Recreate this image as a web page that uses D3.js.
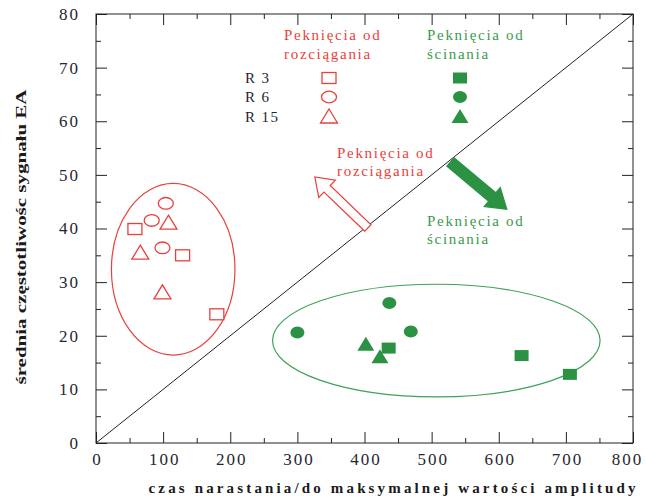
<!DOCTYPE html>
<html lang="pl">
<head>
<meta charset="UTF-8">
<title>Peknięcia - EA</title>
<script src="https://d3js.org/d3.v7.min.js"></script>
<style>
    body { margin: 0; background: #fff; }
    svg text { font-family: "Liberation Serif", "DejaVu Serif", serif; }
</style>
</head>
<body>
<svg id="chart" width="647" height="498"></svg>
<script>
// x = czas narastania, y = średnia częstotliwość
const tensileR3  = [[58, 39.9], [129, 35.0], [180, 24.0]];
const tensileR6  = [[104, 44.7], [83, 41.5], [99, 36.4]];
const tensileR15 = [[108, 41.0], [66, 35.4], [99, 28.0]];
const shearR3  = [[436, 17.7], [634, 16.3], [706, 12.8]];
const shearR6  = [[437, 26.1], [300, 20.6], [469, 20.8]];
const shearR15 = [[402, 18.3], [423, 16.0]];

const legendRows = ["R 3", "R 6", "R 15"];
const xTicks = d3.range(0, 801, 100);
const yTicks = d3.range(0, 81, 10);

// ellipses: [cx, cy, rx, ry] in data units
const tensileZone = [115, 32.4, 92, 16.0];
const shearZone = [507, 19.1, 244, 10.5];

// arrows: [from, to] in data units
const tensileArrow = [[405, 40.1], [326, 49.6]];
const shearArrow = [[528, 52.4], [612, 43.6]];

const RED = "#e8413c", GREEN = "#2b9244";

const svg = d3.select("#chart");
const mLeft = 96, mRight = 633, mTop = 14, mBottom = 443;

const x = d3.scaleLinear().domain([0, 800]).range([mLeft, mRight]);
const y = d3.scaleLinear().domain([0, 80]).range([mBottom, mTop]);

// frame
svg.append("rect")
    .attr("x", mLeft).attr("y", mTop)
    .attr("width", mRight - mLeft).attr("height", mBottom - mTop)
    .attr("fill", "none").attr("stroke", "#222").attr("stroke-width", 1);

// ticks (inward), major + minor on all four sides
function ticksOn(axisFn, scale, vals, size, pos, labels, pad) {
    const g = svg.append("g").attr("transform", pos)
        .call(axisFn(scale).tickValues(vals).tickSize(-size).tickPadding(pad)
            .tickFormat(labels ? d3.format("d") : ""));
    g.select(".domain").remove();
    g.selectAll("line").attr("stroke", "#222");
    g.selectAll("text").attr("fill", "#262630").attr("font-size", "17px")
        .attr("letter-spacing", "2px")
        .style("font-family", "Liberation Serif, serif");
    return g;
}
const xMinor = d3.range(50, 800, 100);
const yMinor = d3.range(5, 80, 10);
const xLab = ticksOn(d3.axisBottom, x, xTicks, 11, `translate(0,${mBottom})`, true, 10);
xLab.selectAll("text").attr("dx", "1px");
xLab.selectAll("text").filter(d => d === 800).attr("dx", "-6px");
ticksOn(d3.axisBottom, x, xMinor, 5, `translate(0,${mBottom})`, false, 0);
ticksOn(d3.axisTop, x, xTicks, 11, `translate(0,${mTop})`, false, 0);
ticksOn(d3.axisTop, x, xMinor, 5, `translate(0,${mTop})`, false, 0);
ticksOn(d3.axisLeft, y, yTicks, 11, `translate(${mLeft},0)`, true, 16);
ticksOn(d3.axisLeft, y, yMinor, 5, `translate(${mLeft},0)`, false, 0);
ticksOn(d3.axisRight, y, yTicks, 11, `translate(${mRight},0)`, false, 0);
ticksOn(d3.axisRight, y, yMinor, 5, `translate(${mRight},0)`, false, 0);

// diagonal
svg.append("line")
    .attr("x1", x(0)).attr("y1", y(0)).attr("x2", x(800)).attr("y2", y(80))
    .attr("stroke", "#222").attr("stroke-width", 1);

// zones
[[tensileZone, RED], [shearZone, "#3fa257"]].forEach(([z, c]) => {
    svg.append("ellipse")
        .attr("cx", x(z[0])).attr("cy", y(z[1]))
        .attr("rx", x(z[2]) - x(0)).attr("ry", y(0) - y(z[3]))
        .attr("fill", "none").attr("stroke", c).attr("stroke-width", 1.2);
});

// markers
function marker(g, shape, px, py, filled, color) {
    const fill = filled ? color : "#fff";
    const sw = filled ? 0 : 1.3;
    if (shape === "square") {
        g.append("rect").attr("x", px - 7).attr("y", py - 5.5)
            .attr("width", 14).attr("height", 11)
            .attr("fill", fill).attr("stroke", color).attr("stroke-width", sw);
    } else if (shape === "circle") {
        g.append("ellipse").attr("cx", px).attr("cy", py)
            .attr("rx", filled ? 7 : 7.5).attr("ry", filled ? 6 : 5.8)
            .attr("fill", fill).attr("stroke", color).attr("stroke-width", sw);
    } else {
        g.append("path")
            .attr("d", `M${px},${py - 8}L${px + 8.5},${py + 6}L${px - 8.5},${py + 6}Z`)
            .attr("fill", fill).attr("stroke", color).attr("stroke-width", sw);
    }
}
const pts = svg.append("g");
const groups = [
    [tensileR3, "square", false, RED], [tensileR6, "circle", false, RED], [tensileR15, "triangle", false, RED],
    [shearR3, "square", true, GREEN], [shearR6, "circle", true, GREEN], [shearR15, "triangle", true, GREEN]
];
groups.forEach(([data, shape, filled, color]) => {
    data.forEach(d => marker(pts, shape, x(d[0]), y(d[1]), filled, color));
});

// legend
function label(tx, ty, str, color, size, ls) {
    return svg.append("text").attr("x", tx).attr("y", ty)
        .attr("fill", color).attr("font-size", size + "px")
        .attr("letter-spacing", ls + "px").text(str);
}
label(284, 40, "Peknięcia od", RED, 15, 1.7);
label(284, 59, "rozciągania", RED, 15, 1.7);
label(427, 40, "Peknięcia od", "#3a9a4c", 15, 1.7);
label(427, 59, "ścinania", "#3a9a4c", 15, 1.7);
const rowY = [78, 97, 117];
legendRows.forEach((r, i) => {
    label(245, rowY[i] + 5, r, "#262630", 15, 1.4);
    const shape = ["square", "circle", "triangle"][i];
    marker(svg, shape, 329, rowY[i], false, RED);
    marker(svg, shape, 460, rowY[i], true, GREEN);
});

// arrows
function arrow(from, to, shaft, head, headLen, fill, stroke) {
    const x1 = x(from[0]), y1 = y(from[1]), x2 = x(to[0]), y2 = y(to[1]);
    const len = Math.hypot(x2 - x1, y2 - y1);
    const ang = Math.atan2(y2 - y1, x2 - x1) * 180 / Math.PI;
    const s = shaft / 2, h = head / 2, b = len - headLen;
    svg.append("path")
        .attr("d", `M0,${-s}L${b},${-s}L${b},${-h}L${len},0L${b},${h}L${b},${s}L0,${s}Z`)
        .attr("transform", `translate(${x1},${y1}) rotate(${ang})`)
        .attr("fill", fill).attr("stroke", stroke).attr("stroke-width", 1.2);
}
arrow(tensileArrow[0], tensileArrow[1], 9, 24, 17, "#fff", RED);
arrow(shearArrow[0], shearArrow[1], 11, 25, 19, GREEN, GREEN);

label(337, 158, "Peknięcia od", RED, 15, 1.7);
label(337, 176, "rozciągania", RED, 15, 1.7);
label(427, 226, "Peknięcia od", "#3a9a4c", 15, 1.7);
label(427, 244, "ścinania", "#3a9a4c", 15, 1.7);

// axis titles
svg.append("text")
    .attr("x", 392).attr("y", 493).attr("text-anchor", "middle")
    .attr("font-size", "15px").attr("font-weight", "bold").attr("fill", "#1a1a1a")
    .attr("textLength", 487).attr("lengthAdjust", "spacing")
    .text("czas narastania/do maksymalnej wartości amplitudy");
svg.append("text")
    .attr("transform", "translate(26,237) rotate(-90)")
    .attr("text-anchor", "middle")
    .attr("font-size", "14px").attr("font-weight", "bold").attr("fill", "#1a1a1a")
    .attr("textLength", 295).attr("lengthAdjust", "spacingAndGlyphs")
    .text("średnia częstotliwośc sygnału EA");
</script>
</body>
</html>
